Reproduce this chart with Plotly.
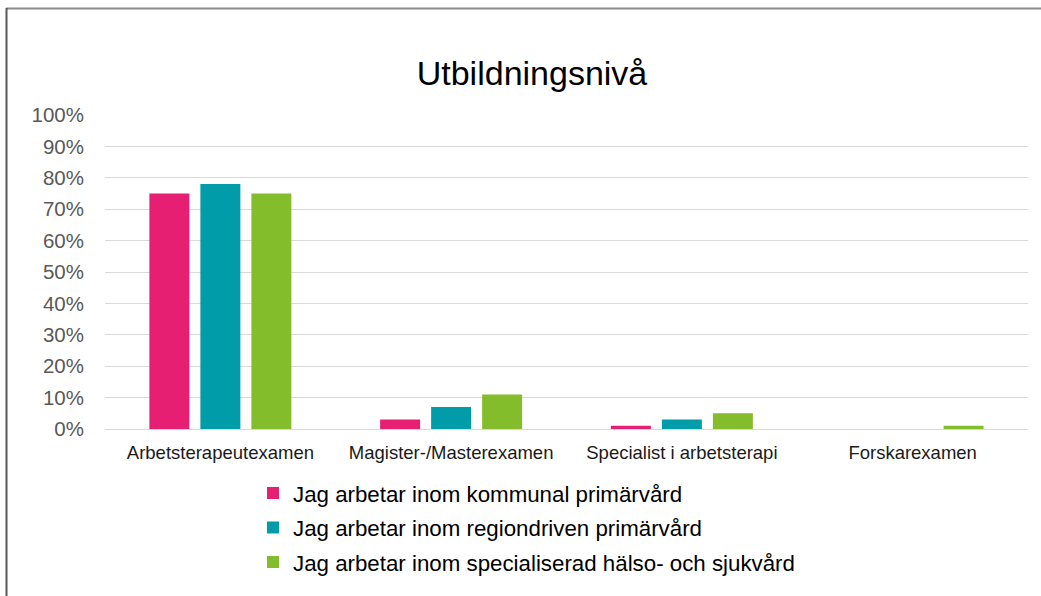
import plotly.graph_objects as go

categories = ["Arbetsterapeutexamen", "Magister-/Masterexamen", "Specialist i arbetsterapi", "Forskarexamen"]
series_names = [
    "Jag arbetar inom kommunal primärvård",
    "Jag arbetar inom regiondriven primärvård",
    "Jag arbetar inom specialiserad hälso- och sjukvård",
]
kommunal = [0.75, 0.03, 0.01, 0.0]
regiondriven = [0.78, 0.07, 0.03, 0.0]
specialiserad = [0.75, 0.11, 0.05, 0.01]
colors = ["#E61F73", "#009CAA", "#84BD2B"]
y_ticks = [i / 10 for i in range(11)]
y_tick_labels = [f"{i * 10}%" for i in range(11)]

FONT = "Liberation Sans, Arial, sans-serif"
W, H = 1041, 596
L, R, T, B = 105, 13, 115, 167
pw, ph = W - L - R, H - T - B

def px_x(p):
    return (p - L) / pw

def px_y(p):
    return (H - B - p) / ph

fig = go.Figure()
for name, vals, col in zip(series_names, [kommunal, regiondriven, specialiserad], colors):
    fig.add_trace(go.Bar(
        x=categories, y=vals, name=name, legendgroup=name,
        marker=dict(color=col, line=dict(width=0)),
    ))

fig.update_layout(
    width=W, height=H,
    margin=dict(l=L, r=R, t=T, b=B, autoexpand=False),
    paper_bgcolor="white", plot_bgcolor="white",
    barmode="group", bargap=0.337, bargroupgap=0.216,
    title=dict(text="Utbildningsnivå", x=532 / W, xref="container", xanchor="center",
               y=1 - 73 / H, yref="container", yanchor="middle",
               font=dict(family=FONT, size=34, color="#000000")),
    font=dict(family=FONT),
    showlegend=True,
    legend=dict(
        orientation="v", x=px_x(253), xanchor="left", y=px_y(472), yanchor="top",
        font=dict(family=FONT, size=22.3, color="#000000"),
        traceorder="grouped", tracegroupgap=2.5, bgcolor="rgba(0,0,0,0)",
    ),
    xaxis=dict(
        showgrid=False, showline=False, ticks="", zeroline=False,
        ticklabelstandoff=10,
        tickfont=dict(family=FONT, size=18.5, color="#1A1A1A"),
    ),
    yaxis=dict(
        range=[0, 1.0], tickvals=y_ticks, ticktext=y_tick_labels,
        showgrid=True, gridcolor="#D9D9D9", gridwidth=1,
        zeroline=True, zerolinecolor="#D9D9D9", zerolinewidth=1,
        showline=False, ticks="", ticklabelstandoff=20,
        tickfont=dict(family=FONT, size=20.5, color="#595959"),
    ),
    shapes=[
        dict(type="line", xref="paper", yref="paper", x0=px_x(6), x1=px_x(W + 5),
             y0=px_y(8.5), y1=px_y(8.5), line=dict(color="#8C8C8C", width=2)),
        dict(type="line", xref="paper", yref="paper", x0=px_x(6.5), x1=px_x(6.5),
             y0=px_y(8), y1=px_y(H + 5), line=dict(color="#595959", width=2)),
    ],
)

fig.write_html(
    "out.html",
    config={"displayModeBar": False},
    post_script="document.body.style.margin='0';document.body.style.overflow='hidden';",
)
